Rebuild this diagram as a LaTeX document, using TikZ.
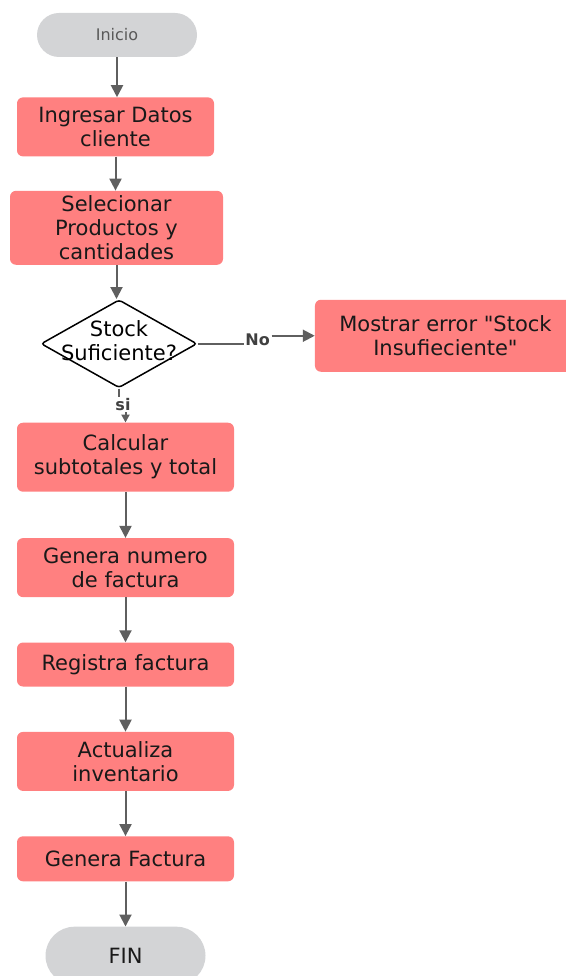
\documentclass[tikz,border=0pt]{standalone}
\usepackage{fontspec}
\setmainfont{DejaVu Sans}
\usepackage{tikz}
\usetikzlibrary{arrows.meta, shapes.geometric, positioning}
\definecolor{boxred}{RGB}{255,128,128}
\definecolor{termgray}{RGB}{211,212,214}
\definecolor{flowgray}{RGB}{95,95,95}
\newcommand{\zerotext}[1]{\raisebox{-5pt}[0pt][0pt]{\makebox[0pt]{\begin{tabular}{@{}c@{}}#1\end{tabular}}}}
\tikzset{
    procnode/.style = {draw=none, fill=boxred, rectangle, rounded corners=6pt, inner sep=0em,
      text=black!90, font=\fontsize{21}{24}\selectfont},
    termnode/.style = {draw=none, fill=termgray, rectangle, inner sep=0em, minimum width=160pt},
    decisionnode/.style = {diamond, draw=black, fill=white, line width=1.5pt, rounded corners=3pt,
      inner sep=0em, minimum width=156pt, minimum height=88pt, font=\fontsize{21}{24}\selectfont},
    labelnode/.style = {draw=none, fill=white, inner sep=1.5pt, text=black!75,
      font=\fontsize{16}{18}\selectfont\bfseries},
    flow/.style = {draw=flowgray, line width=2pt, -{Triangle[width=12pt, length=12pt]}},
    smallflow/.style = {draw=flowgray, line width=2pt, -{Triangle[width=8pt, length=8pt]}},
    plain/.style = {draw=flowgray, line width=2pt},
    every text node part/.style={align=center}
}
\begin{document}
\begin{tikzpicture}[x=1pt, y=1pt]
    \useasboundingbox (0,0) rectangle (565,-976);

    \node [name=inicio, termnode, rounded corners=22pt, minimum height=44pt, text=black!65,
      font=\fontsize{16}{18}\selectfont] at (117,-35) {Inicio};
    \node [name=datos, procnode, below=40pt of inicio, xshift=-1.5pt, minimum width=197pt,
      minimum height=59pt] {Ingresar Datos\\cliente};
    \node [name=productos, procnode, below=34pt of datos, xshift=1pt, minimum width=213pt,
      minimum height=74pt] {Selecionar\\Productos y\\cantidades};
    \node [name=stock, decisionnode, below=34pt of productos, xshift=2.5pt]
      {\zerotext{Stock\\Suficiente?}};
    \node [name=error, procnode, right=117pt of stock, yshift=8pt, minimum width=261pt,
      minimum height=72pt] {Mostrar error \textquotedbl Stock\\Insufieciente\textquotedbl};
    \node [name=subtotal, procnode, below=34pt of stock, xshift=6.5pt, minimum width=217pt,
      minimum height=69pt] {Calcular\\subtotales y total};
    \node [name=numero, procnode, below=46pt of subtotal, minimum width=217pt,
      minimum height=59pt] {Genera numero\\de factura};
    \node [name=registra, procnode, below=45pt of numero, minimum width=217pt,
      minimum height=44pt] {Registra factura};
    \node [name=inventario, procnode, below=45pt of registra, minimum width=217pt,
      minimum height=59pt] {Actualiza\\inventario};
    \node [name=factura, procnode, below=45pt of inventario, minimum width=217pt,
      minimum height=45pt] {Genera Factura};
    \node [name=fin, termnode, below=45pt of factura, rounded corners=29pt,
      minimum height=58pt, text=black!90, font=\fontsize{21}{24}\selectfont] {FIN};

    % branch labels
    \node [name=no, labelnode, right=46pt of stock, yshift=4pt] {No};
    \node [name=si, labelnode, below=8pt of stock, xshift=4pt] {si};

    \draw [flow] (inicio.south) -- (inicio.south |- datos.north);
    \draw [flow] (datos.south) -- (datos.south |- productos.north);
    \draw [flow] (productos.south) -- (productos.south |- stock.north);

    \draw [plain] (stock.east) -- (stock.east -| no.west);
    \draw [flow] (no.east |- error.west) -- (error.west);
    \draw [plain] (stock.south) -- (stock.south |- si.north);
    \draw [smallflow] (si.south -| subtotal.north) -- (subtotal.north);

    \draw (subtotal) edge[flow] (numero);
    \draw (numero) edge[flow] (registra);
    \draw (registra) edge[flow] (inventario);
    \draw (inventario) edge[flow] (factura);
    \draw (factura) edge[flow] (fin);
\end{tikzpicture}
\end{document}
